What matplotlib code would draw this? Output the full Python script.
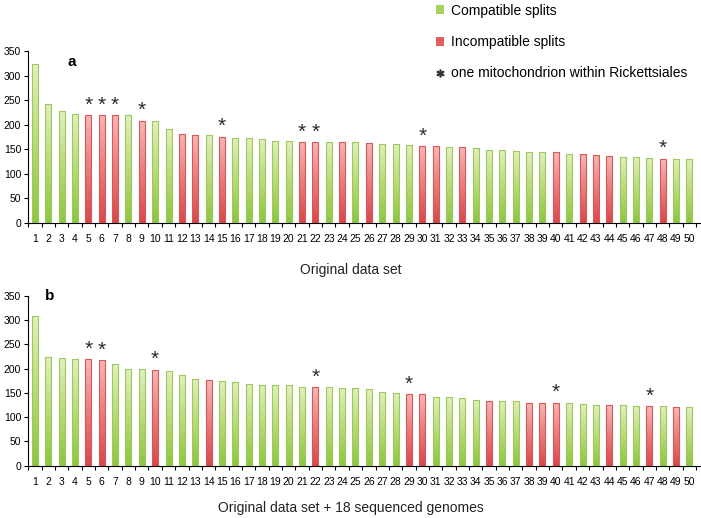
import matplotlib
matplotlib.use("Agg")
import matplotlib.pyplot as plt
import numpy as np
from matplotlib.colors import LinearSegmentedColormap
from matplotlib.lines import Line2D
from matplotlib.patches import Patch

plt.rcParams["font.family"] = ["Liberation Sans", "DejaVu Sans"]

positions = np.arange(1, 51)

# panel a: original data set
values_a = [323, 243, 227, 221, 220, 220, 220, 219, 208, 207,
            191, 182, 180, 179, 176, 174, 173, 171, 167, 166,
            165, 165, 165, 165, 164, 163, 161, 160, 159, 156,
            156, 154, 154, 152, 149, 148, 146, 145, 144, 144,
            141, 141, 139, 137, 135, 135, 133, 131, 131, 130]
incompatible_a = [5, 6, 7, 9, 12, 13, 15, 21, 22, 24, 26, 30, 31, 33, 40, 42, 43, 44, 48]
starred_a = [5, 6, 7, 9, 15, 21, 22, 30, 48]

# panel b: original data set + 18 sequenced genomes
values_b = [308, 224, 221, 219, 219, 217, 209, 199, 199, 198,
            195, 186, 178, 176, 174, 173, 169, 167, 166, 166,
            163, 162, 162, 160, 159, 158, 151, 149, 147, 147,
            142, 142, 140, 136, 134, 134, 134, 130, 130, 130,
            130, 127, 125, 124, 124, 123, 122, 122, 121, 120]
incompatible_b = [5, 6, 10, 14, 22, 29, 30, 35, 38, 39, 40, 44, 47, 49]
starred_b = [5, 6, 10, 22, 29, 40, 47]

GREEN_CMAP = LinearSegmentedColormap.from_list("g", ["#8cc63f", "#b9da78", "#e2efbf"])
RED_CMAP = LinearSegmentedColormap.from_list("r", ["#d9474a", "#ea7c7c", "#f8b7b5"])
GREEN_EDGE = "#9cc95a"
RED_EDGE = "#d45a5a"


def draw_panel(ax, values, incompatible, starred, letter, xlabel):
    bad = set(incompatible)
    edges = [RED_EDGE if p in bad else GREEN_EDGE for p in positions]
    bars = ax.bar(positions, values, width=0.45, color="none", edgecolor=edges,
                  linewidth=0.8, zorder=3)
    grad = np.linspace(0, 1, 256).reshape(-1, 1)
    for p, bar in zip(positions, bars):
        x0, y0 = bar.get_x(), bar.get_y()
        w, h = bar.get_width(), bar.get_height()
        cmap = RED_CMAP if p in bad else GREEN_CMAP
        im = ax.imshow(grad, cmap=cmap, aspect="auto", origin="lower",
                       extent=(x0, x0 + w, y0, y0 + h), zorder=2)
        im.set_clip_path(bar)

    for p in starred:
        ax.text(p, values[p - 1] + 1, "*", ha="center", va="bottom",
                fontsize=15, color="#2b2b2b")

    ax.set_xlim(0.48, 50.82)
    ax.set_ylim(0, 350)
    ax.set_yticks(np.arange(0, 351, 50))
    ax.set_xticks(positions)
    ax.set_xticks(np.arange(0.5, 51, 1), minor=True)
    ax.tick_params(axis="x", which="major", length=0, pad=8, labelsize=7.5)
    ax.tick_params(axis="x", which="minor", length=3, direction="out", width=0.8)
    ax.tick_params(axis="y", length=3, width=0.8, pad=2, labelsize=7.5)
    for side in ("top", "right"):
        ax.spines[side].set_visible(False)
    ax.spines["left"].set_linewidth(0.8)
    ax.spines["bottom"].set_linewidth(0.8)
    ax.text(letter[1], letter[2], letter[0], transform=ax.figure.transFigure,
            fontsize=11, fontweight="bold", ha="center", va="center")
    ax.figure.text(xlabel[1], xlabel[2], xlabel[0], fontsize=10,
                   ha="center", va="center", color="#222222")


fig = plt.figure(figsize=(7.01, 5.18), dpi=100)
ax_a = fig.add_axes([0.040, 0.5695, 0.959, 0.332])
ax_b = fig.add_axes([0.040, 0.101, 0.959, 0.328])

draw_panel(ax_a, values_a, incompatible_a, starred_a,
           ("a", 72 / 701, 1 - 62 / 518), ("Original data set", 351 / 701, 1 - 270 / 518))
draw_panel(ax_b, values_b, incompatible_b, starred_b,
           ("b", 50 / 701, 1 - 296 / 518),
           ("Original data set + 18 sequenced genomes", 351 / 701, 1 - 508 / 518))

handles = [
    Patch(facecolor="#a8d05c", edgecolor="none", label="Compatible splits"),
    Patch(facecolor="#e06060", edgecolor="none", label="Incompatible splits"),
    Line2D([], [], marker="$*$", linestyle="none", color="#333333", markersize=5,
           label="one mitochondrion within Rickettsiales"),
]
fig.legend(handles=handles, loc="upper left", bbox_to_anchor=(436 / 701, 0.993),
           frameon=False, fontsize=10, labelspacing=1.25, handlelength=0.6,
           handleheight=0.6, handletextpad=0.5, borderaxespad=0, borderpad=0)

fig.savefig("out.png", dpi=100)
